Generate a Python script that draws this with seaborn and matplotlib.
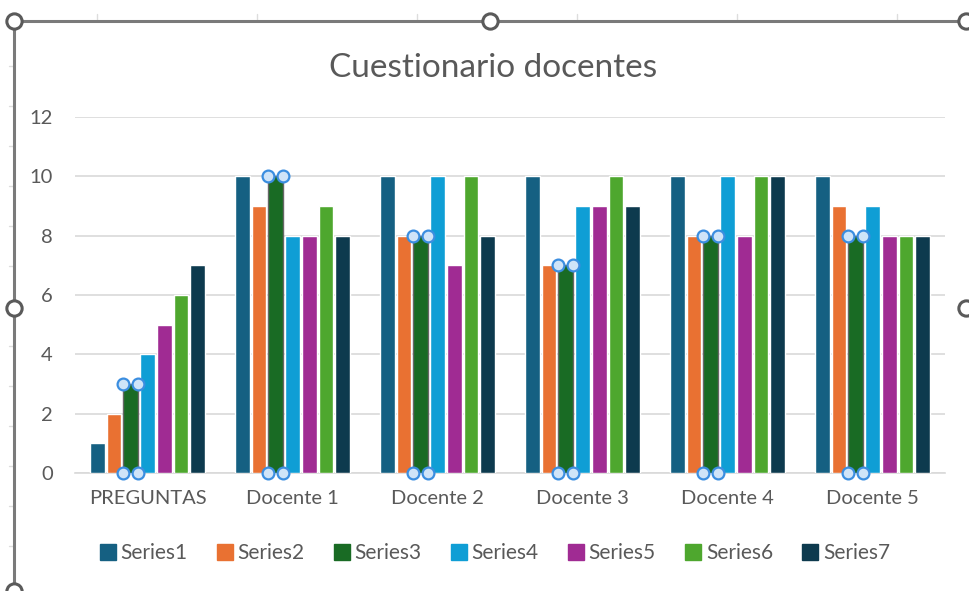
import pandas as pd
import seaborn as sns
import matplotlib.pyplot as plt
from matplotlib.lines import Line2D

# chart data
categories = ['PREGUNTAS', 'Docente 1', 'Docente 2', 'Docente 3', 'Docente 4', 'Docente 5']
series_names = ['Series1', 'Series2', 'Series3', 'Series4', 'Series5', 'Series6', 'Series7']
series1 = [1, 10, 10, 10, 10, 10]
series2 = [2, 9, 8, 7, 8, 9]
series3 = [3, 10, 8, 7, 8, 8]
series4 = [4, 8, 10, 9, 10, 9]
series5 = [5, 8, 7, 9, 8, 8]
series6 = [6, 9, 10, 10, 10, 8]
series7 = [7, 8, 8, 9, 10, 8]
colors = ['#156082', '#e97132', '#196b24', '#0f9ed5', '#a02b93', '#4ea72e', '#0d3a4e']

all_series = [series1, series2, series3, series4, series5, series6, series7]
rows = []
for name, vals in zip(series_names, all_series):
    for cat, v in zip(categories, vals):
        rows.append({'Categoria': cat, 'Serie': name, 'Valor': v})
df = pd.DataFrame(rows)

sns.set_style('white')
plt.rcParams['font.family'] = ['Lato', 'DejaVu Sans']
text_color = '#595959'
grid_color = '#d9d9d9'

fig = plt.figure(figsize=(9.7, 5.91), dpi=100)
ax = fig.add_axes([0.0773, 0.1997, 0.8969, 0.6024])

sns.barplot(data=df, x='Categoria', y='Valor', hue='Serie', palette=colors,
            saturation=1, width=0.81, gap=0.12, ax=ax, legend=False, zorder=3)

ax.set_ylim(0, 12)
ax.set_xlim(-0.5, 5.5)
ax.set_yticks(range(0, 13, 2))
ax.yaxis.grid(True, color=grid_color, linewidth=1.2, zorder=0)
ax.set_axisbelow(True)
for s in ['top', 'right', 'left']:
    ax.spines[s].set_visible(False)
ax.spines['bottom'].set_color(grid_color)
ax.spines['bottom'].set_linewidth(1.2)
ax.tick_params(length=0, colors=text_color, labelsize=14.5)
ax.tick_params(axis='x', pad=12)
ax.tick_params(axis='y', pad=16)
ax.set_xlabel('')
ax.set_ylabel('')

# selected series (Series3): outline and handles
for p in ax.containers[2]:
    p.set_edgecolor('#666666')
    p.set_linewidth(1.0)
    x0, w, h = p.get_x(), p.get_width(), p.get_height()
    for yy in (0, h):
        ax.plot([x0, x0 + w], [yy, yy], linestyle='none', marker='o', ms=8.5,
                mfc='#cfe4f8', mec='#3b8ee0', mew=1.6, clip_on=False, zorder=6)

fig.suptitle('Cuestionario docentes', x=0.508, y=0.91, fontsize=24, color=text_color)

handles = [Line2D([], [], linestyle='none', marker='s', ms=11, mfc=c, mec=c) for c in colors]
fig.legend(handles, series_names, loc='center', bbox_to_anchor=(0.51, 0.064), ncol=7,
           frameon=False, handlelength=0.8, handletextpad=0.2, columnspacing=1.4,
           fontsize=15, labelcolor=text_color)

# chart-object frame with selection handles
frame_c = '#7a7a7a'
W, H = 970, 591
fx = lambda px: px / W
fy = lambda py: 1 - py / H
for xt in [97, 257, 417, 577, 737, 897]:
    fig.add_artist(Line2D([fx(xt)] * 2, [fy(14), fy(20)], color='#dddddd', lw=1))
for yt in range(66, 590, 40):
    fig.add_artist(Line2D([fx(9), fx(13)], [fy(yt)] * 2, color='#dddddd', lw=1))
fig.add_artist(Line2D([fx(14), fx(966)], [fy(21), fy(21)], color=frame_c, lw=2.2))
fig.add_artist(Line2D([fx(14), fx(14)], [fy(21), fy(591)], color=frame_c, lw=2.2))
for hx, hy in [(14, 21), (490, 21), (966, 21), (14, 308), (966, 308), (14, 591)]:
    fig.add_artist(Line2D([fx(hx)], [fy(hy)], marker='o', ms=11, mfc='white',
                          mec='#5a5a5a', mew=2.2, linestyle='none'))

fig.savefig('out.png', dpi=100)
